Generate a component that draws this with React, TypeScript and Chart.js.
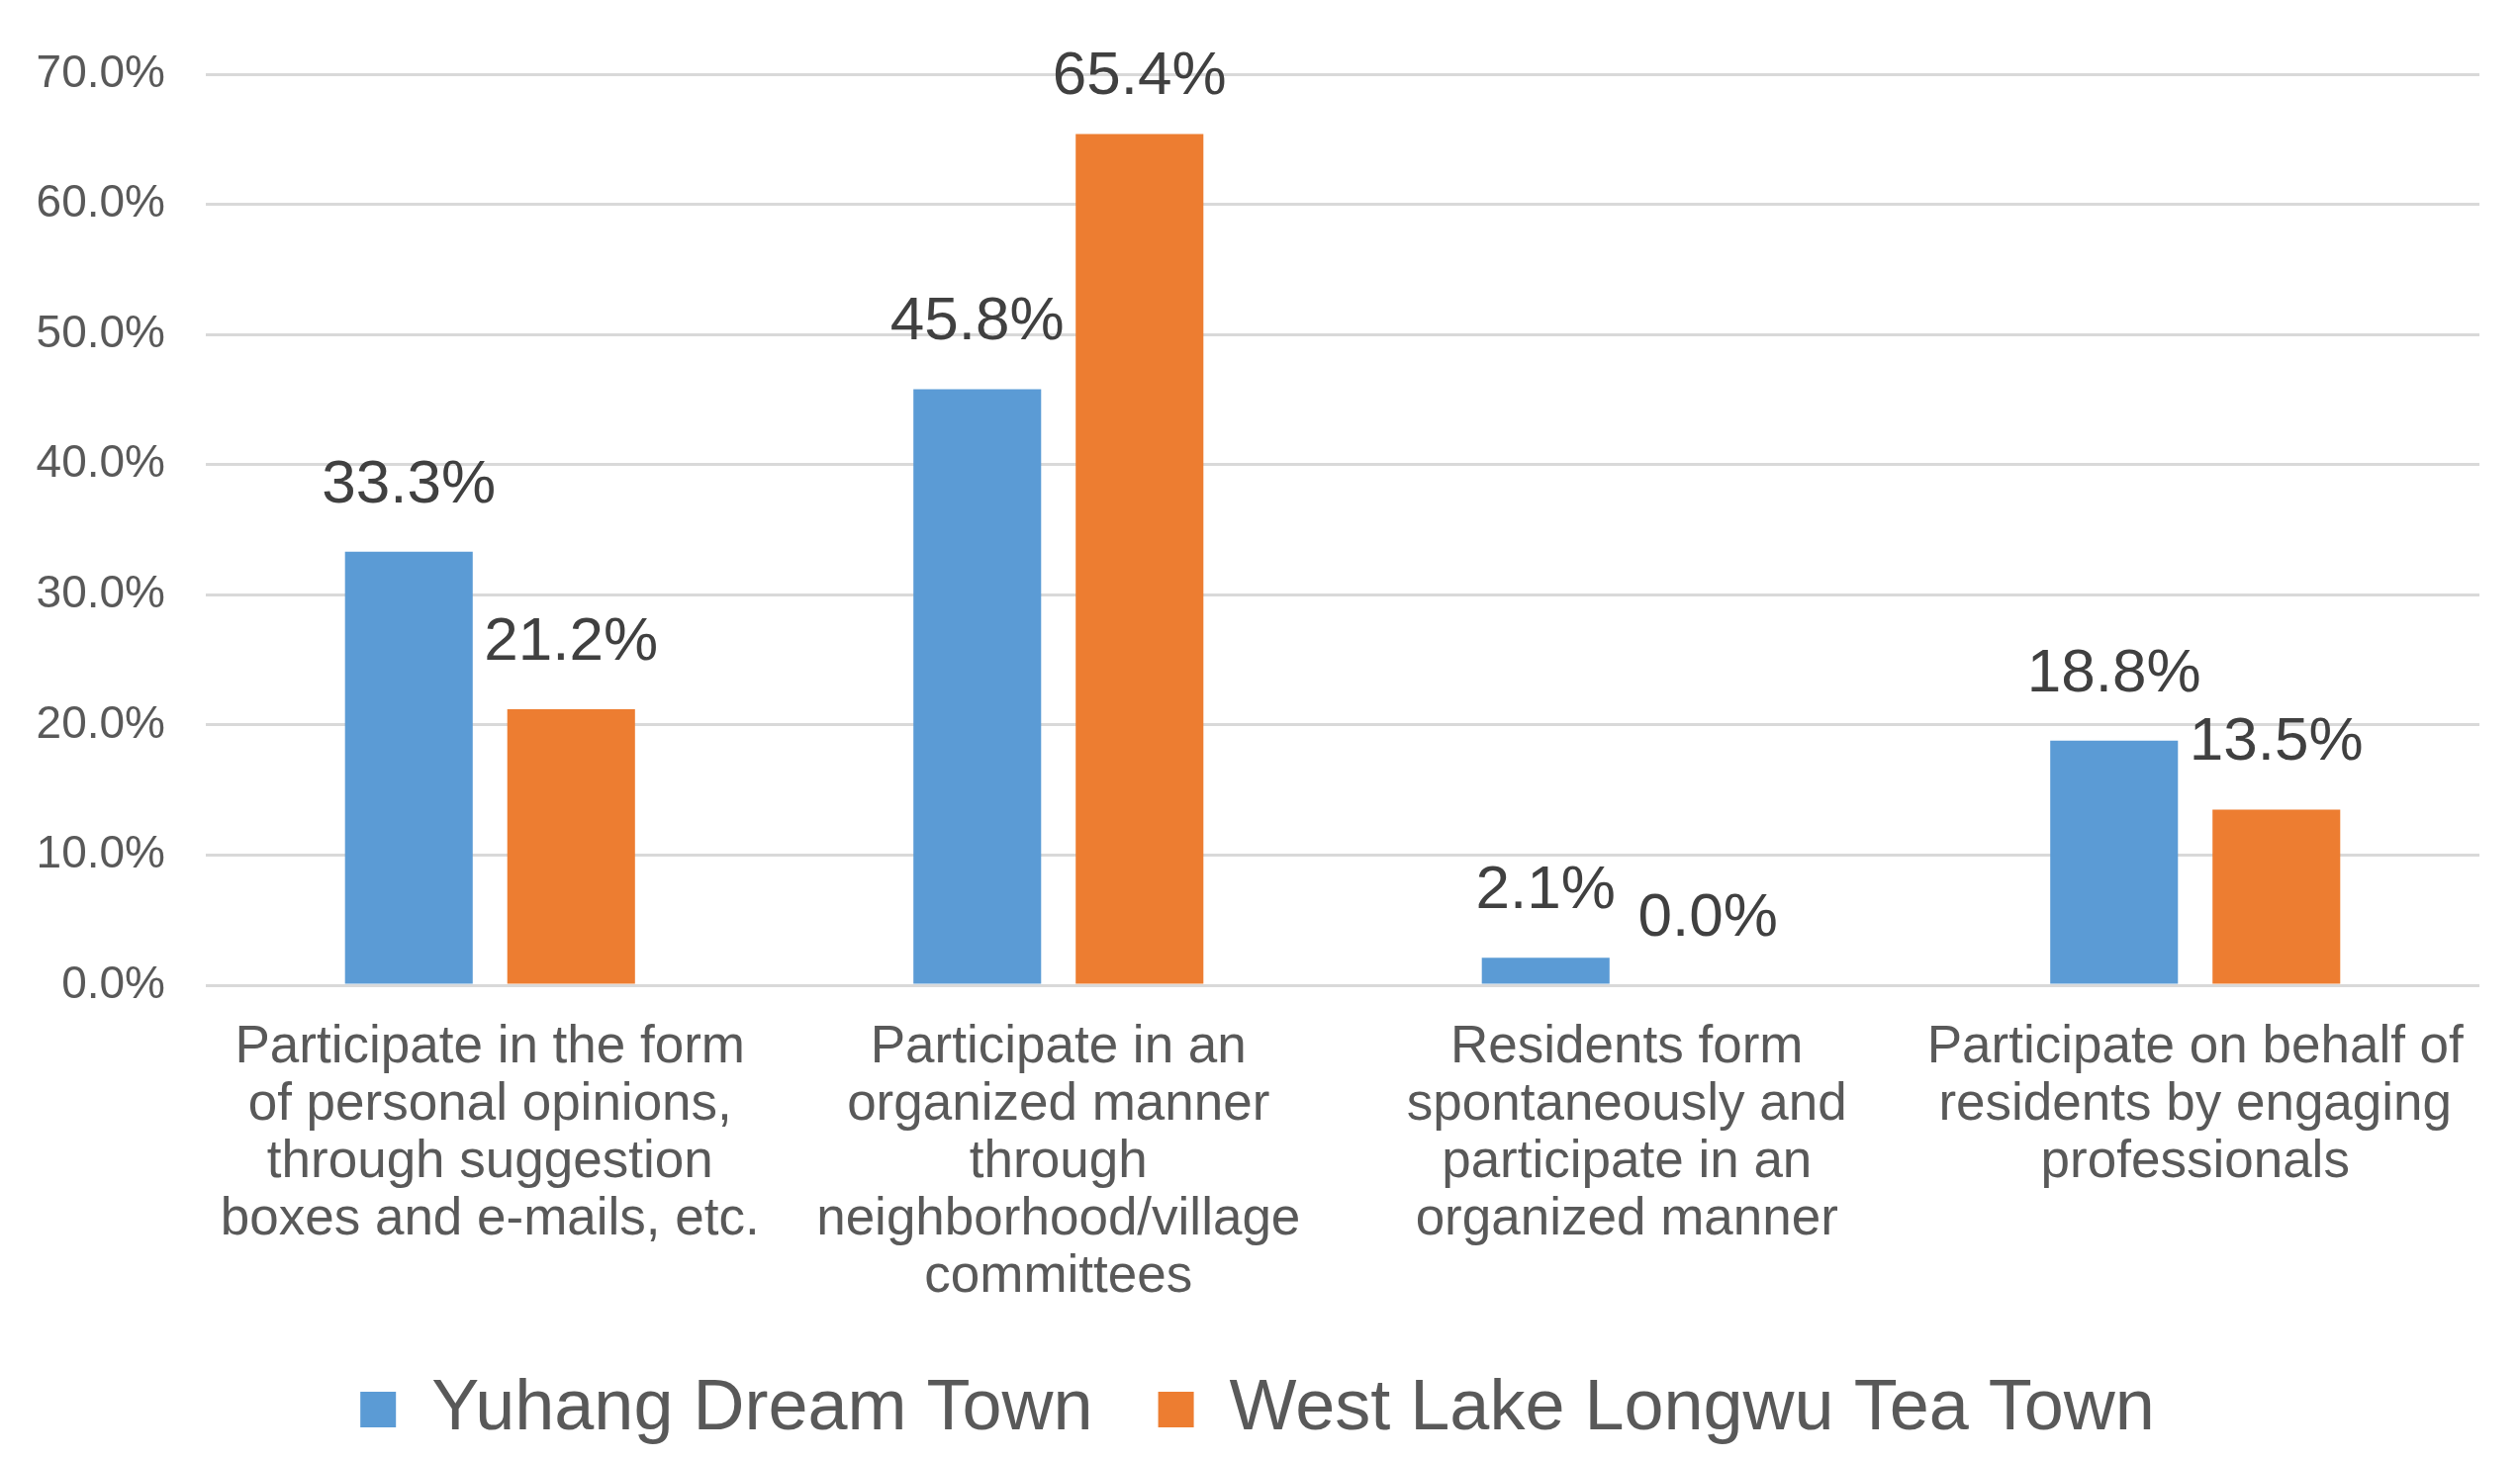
import React, { useEffect, useRef } from "react";
import { Chart, registerables } from "chart.js";

Chart.register(...registerables);

const categories: string[][] = [
  ["Participate in the form", "of personal opinions,", "through suggestion", "boxes and e-mails, etc."],
  ["Participate in an", "organized manner", "through", "neighborhood/village", "committees"],
  ["Residents form", "spontaneously and", "participate in an", "organized manner"],
  ["Participate on behalf of", "residents by engaging", "professionals"],
];
const seriesNames = ["Yuhang Dream Town", "West Lake Longwu Tea Town"];
const yuhangValues = [33.3, 45.8, 2.1, 18.8];
const westLakeValues = [21.2, 65.4, 0.0, 13.5];
const yTicks = { min: 0, max: 70, step: 10 };

const FONT = "'Liberation Sans', Arial, sans-serif";

const dataLabelPlugin = {
  id: "dataLabels",
  afterDatasetsDraw(chart: any) {
    const { ctx, chartArea } = chart;
    ctx.save();
    ctx.font = `62px ${FONT}`;
    ctx.fillStyle = "#404040";
    ctx.textAlign = "center";
    ctx.textBaseline = "alphabetic";
    chart.data.datasets.forEach((ds: any, di: number) => {
      const meta = chart.getDatasetMeta(di);
      meta.data.forEach((bar: any, i: number) => {
        const v = ds.data[i] as number;
        const y = Math.max(bar.y - 50, chartArea.top + 20);
        ctx.fillText(v.toFixed(1) + "%", bar.x, y);
      });
    });
    ctx.restore();
  },
};

export default function App() {
  const ref = useRef<HTMLCanvasElement | null>(null);
  useEffect(() => {
    if (!ref.current) return;
    const chart = new Chart(ref.current, {
      type: "bar",
      data: {
        labels: categories,
        datasets: [
          {
            label: seriesNames[0],
            data: yuhangValues,
            backgroundColor: "#5B9BD5",
            categoryPercentage: 0.571,
            barPercentage: 0.787,
          },
          {
            label: seriesNames[1],
            data: westLakeValues,
            backgroundColor: "#ED7D31",
            categoryPercentage: 0.571,
            barPercentage: 0.787,
          },
        ],
      },
      options: {
        responsive: false,
        animation: false,
        devicePixelRatio: 1,
        layout: { padding: { top: 75, right: 41, left: 36, bottom: 5 } },
        plugins: {
          tooltip: { enabled: false },
          legend: {
            position: "bottom",
            labels: {
              boxWidth: 36,
              boxHeight: 36,
              padding: 66,
              color: "#595959",
              font: { family: FONT, size: 72 },
            },
          },
        },
        scales: {
          x: {
            grid: { display: false, drawTicks: false },
            border: { display: false },
            ticks: {
              color: "#595959",
              padding: 34,
              maxRotation: 0,
              autoSkip: false,
              font: { family: FONT, size: 53, lineHeight: 58 / 53 },
            },
            afterFit: (s: any) => {
              s.height = 327;
            },
          },
          y: {
            min: yTicks.min,
            max: yTicks.max,
            grid: { color: "#d9d9d9", lineWidth: 3, drawTicks: false },
            border: { display: false },
            ticks: {
              stepSize: yTicks.step,
              color: "#595959",
              padding: 41,
              font: { family: FONT, size: 46 },
              callback: (v: any) => Number(v).toFixed(1) + "%",
            },
            afterFit: (s: any) => {
              s.width = 172;
            },
          },
        },
      },
      plugins: [dataLabelPlugin],
    });
    return () => chart.destroy();
  }, []);
  return (
    <div style={{ position: "fixed", left: 0, top: 0, width: 2547, height: 1476, background: "#fff" }}>
      <canvas ref={ref} width={2547} height={1476} style={{ width: 2547, height: 1476, display: "block" }} />
    </div>
  );
}
